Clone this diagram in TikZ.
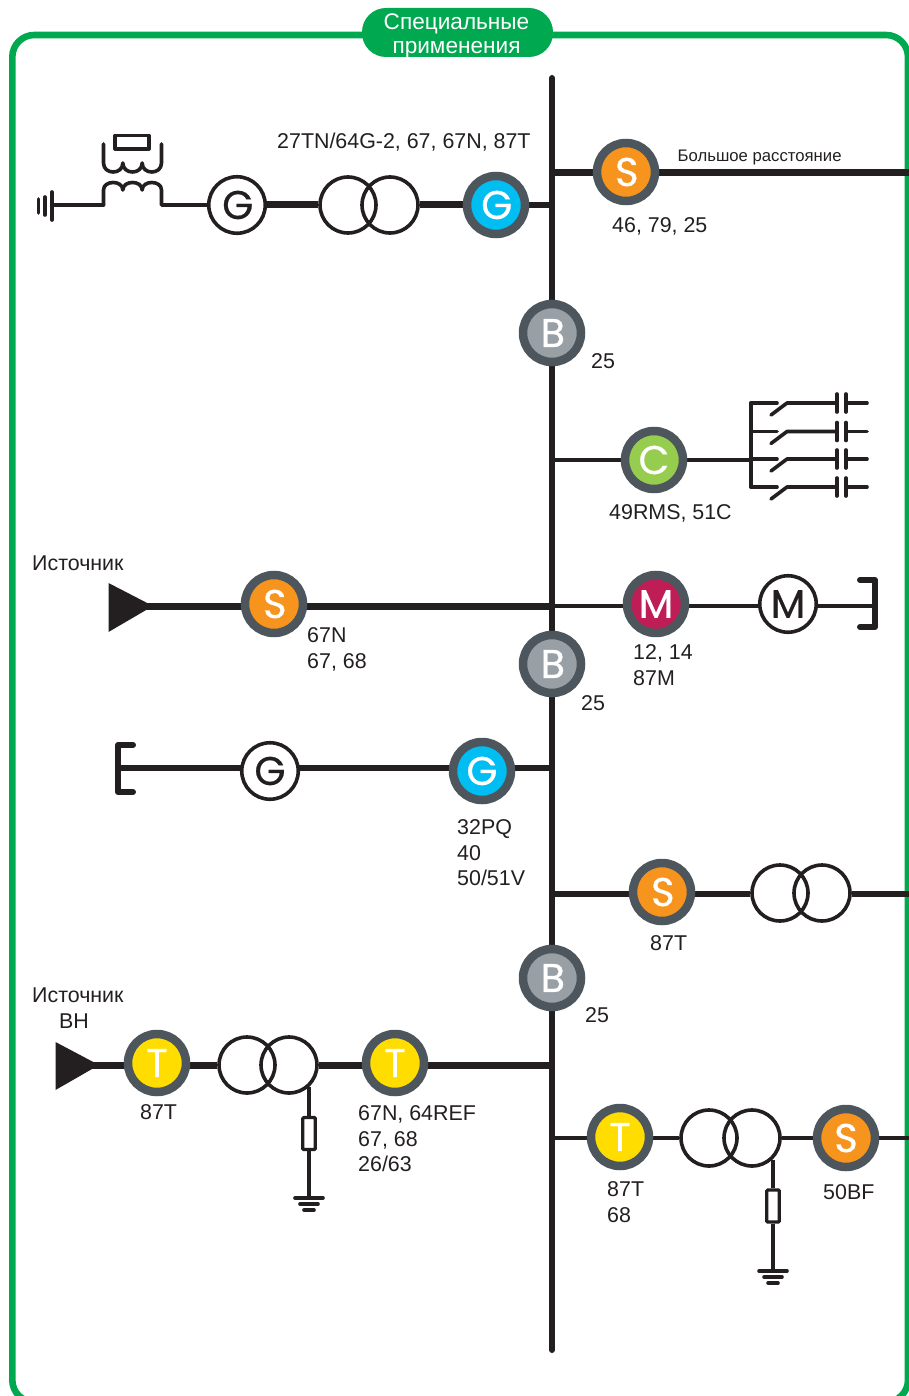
\documentclass[tikz,border=0pt]{standalone}
\usepackage{fontspec}
\setmainfont{Liberation Sans}
\newfontfamily\badgefont[FakeBold=0.6]{Poppins}
\usetikzlibrary{backgrounds,calc}
\definecolor{ink}{HTML}{231F20}
\definecolor{ringgray}{HTML}{4D565C}
\definecolor{frame}{HTML}{00A950}
\definecolor{orangeS}{HTML}{F7941D}
\definecolor{blueG}{HTML}{00BEF2}
\definecolor{yellowT}{HTML}{FFDD00}
\definecolor{limeC}{HTML}{97CD4E}
\definecolor{redM}{HTML}{BE1E55}
\definecolor{grayB}{HTML}{98A0A6}
\newcommand{\glyphat}[1]{\hspace{1.6pt}\raisebox{-1pt}{#1}}
\tikzset{
  x=1pt,y=-1pt,
  relay/.style={circle,draw=ringgray,line width=8.5pt,minimum size=58pt,inner sep=0pt,text=white,
    font=\badgefont\fontsize{40}{40}\selectfont},
  mach/.style={circle,draw=ink,fill=white,line width=3.6pt,minimum size=56.5pt,inner sep=0pt,text=ink,
    font=\badgefont\fontsize{40}{40}\selectfont},
  coilc/.style={circle,draw=ink,line width=3.6pt,minimum size=56pt,inner sep=0pt},
  resist/.style={rectangle,draw=ink,fill=white,line width=3.2pt,minimum width=12.5pt,minimum height=32pt,inner sep=0pt,rounded corners=1pt},
  thin wire/.style={draw=ink,line width=3.6pt,line cap=round,line join=round},
  mid wire/.style={draw=ink,line width=6pt},
  thick wire/.style={draw=ink,line width=7pt},
  bar/.style={draw=ink,line width=6pt,line cap=round,line join=round},
  lbl/.style={anchor=north west,inner sep=0pt,align=left,text=ink,font=\fontsize{21.4}{25.6}\selectfont},
  smalllbl/.style={anchor=north west,inner sep=0pt,text=ink,font=\fontsize{16.7}{18}\selectfont},
}
\begin{document}
\begin{tikzpicture}
\useasboundingbox (0,0) rectangle (909,1396);
\node[fill=frame,rounded corners=24pt,minimum width=191pt,minimum height=49pt,inner sep=0pt] (pill) at (457.5,32.5) {};
\node[text=white,inner sep=0pt,align=center,font=\fontsize{22.6}{24}\selectfont] (title) at (456.5,35.5) {Специальные\\применения};

% bus
\coordinate (busTop) at (552,78);
\coordinate (busBot) at (552,1350);

% relays and machines
\node[relay,fill=orangeS] (sTop) at (626,172) {\glyphat{S}};
\node[relay,fill=blueG] (gTop) at (496,205) {\glyphat{G}};
\node[mach] (genTop) at (237,205) {\glyphat{G}};
\node[coilc] (trTopA) at (348,205) {};
\node[coilc] (trTopB) at (390,205) {};
\node[relay,fill=grayB] (b1) at (552,333) {\glyphat{B}};
\node[relay,fill=limeC] (cap) at (654,460) {\raisebox{-1pt}{C}};
\node[relay,fill=orangeS] (sSrc) at (274,604) {\glyphat{S}};
\node[relay,fill=redM] (mRel) at (656,604) {\raisebox{-1pt}{M}};
\node[mach] (motor) at (788,604) {\raisebox{-1pt}{M}};
\node[relay,fill=grayB] (b2) at (552,664) {\glyphat{B}};
\node[relay,fill=blueG] (gMid) at (482,771) {\raisebox{-1pt}{G}};
\node[mach] (genMid) at (270,771) {\raisebox{-1pt}{G}};
\node[relay,fill=orangeS] (sMid) at (662,892) {\glyphat{S}};
\node[coilc] (trMidA) at (780,893) {};
\node[coilc] (trMidB) at (822,893) {};
\node[relay,fill=grayB] (b3) at (552,978) {\glyphat{B}};
\node[relay,fill=yellowT] (tLeft) at (157,1063) {\raisebox{-1pt}{T}};
\node[coilc] (trLowA) at (247,1065) {};
\node[coilc] (trLowB) at (289,1065) {};
\node[relay,fill=yellowT] (tRight) at (395,1063) {\raisebox{-1pt}{T}};
\node[relay,fill=yellowT] (tBot) at (620,1137) {\raisebox{-1pt}{T}};
\node[coilc] (trBotA) at (709,1138) {};
\node[coilc] (trBotB) at (752,1138) {};
\node[relay,fill=orangeS] (sBot) at (846,1138) {\raisebox{-1pt}{S}};
\node[resist] (r1) at (309,1133.5) {};
\node[resist] (r2) at (773,1206) {};
\coordinate (gnd1) at (309,1198);
\coordinate (gnd2) at (773,1271);

% free ends
\coordinate (eTop) at (909,172.5);
\coordinate (bTop) at (552,172.5);
\coordinate (bG) at (552,205);
\coordinate (bCap) at (552,460);
\coordinate (bank) at (751,460);
\coordinate (tipS) at (153,606);
\coordinate (bRow) at (552,606);
\coordinate (brM) at (875,606);
\coordinate (brG) at (118,768);
\coordinate (bMid) at (552,768);
\coordinate (bS) at (552,894);
\coordinate (eS) at (909,894);
\coordinate (tipT) at (99,1065);
\coordinate (bT) at (552,1065);
\coordinate (bBot) at (552,1138);
\coordinate (eBot) at (909,1138);
\coordinate (gCoilR) at (161.5,205);
\coordinate (gCoilL) at (103.5,205);
\coordinate (gEarth) at (52,205);

\begin{scope}[on background layer]
  \begin{scope}
    \clip (0,0) rectangle (909,1396);
    \draw[frame,line width=6.6pt,rounded corners=22pt] (12.3,35) rectangle (908,1402);
  \end{scope}
  % top right
  \draw[thick wire] (bTop) -- (bTop -| sTop);
  \draw[thick wire] (bTop -| sTop) -- (eTop);
  % top left
  \draw[mid wire] (gTop) -- (bG);
  \draw[thick wire] (trTopB) -- (gTop);
  \draw[thick wire] (genTop) -- (trTopA);
  \draw[thin wire,line cap=butt] (gCoilR) -- (genTop);
  \draw[thin wire] (gEarth) -- (gCoilL);
  % capacitor row
  \draw[thin wire,line cap=butt] (bCap) -- (cap);
  \draw[thin wire,line cap=butt] (cap) -- (bank);
  % source row
  \draw[thick wire,shorten <=-12pt] (tipS) -- (tipS -| sSrc);
  \draw[thick wire] (tipS -| sSrc) -- (bRow);
  \draw[thin wire,line cap=butt] (bRow) -- (bRow -| mRel);
  \draw[thin wire,line cap=butt] (bRow -| mRel) -- (bRow -| motor);
  \draw[thin wire,line cap=butt] (bRow -| motor) -- (brM);
  % mid G row
  \draw[mid wire] (brG) -- (brG -| genMid);
  \draw[mid wire] (brG -| genMid) -- (brG -| gMid);
  \draw[mid wire] (brG -| gMid) -- (bMid);
  % S row
  \draw[mid wire] (bS) -- (bS -| sMid);
  \draw[mid wire] (bS -| sMid) -- (trMidA.west |- bS);
  \draw[mid wire] (trMidB.east |- bS) -- (eS);
  % T row
  \draw[thick wire,shorten <=-12pt] (tipT) -- (tipT -| tLeft);
  \draw[thick wire] (tipT -| tLeft) -- (trLowA.west |- tipT);
  \draw[thick wire] (trLowB.east |- tipT) -- (tipT -| tRight);
  \draw[thick wire] (tipT -| tRight) -- (bT);
  % bottom row
  \draw[thin wire,line cap=butt] (bBot) -- (bBot -| tBot);
  \draw[thin wire,line cap=butt] (bBot -| tBot) -- (trBotA);
  \draw[thin wire,line cap=butt] (trBotB) -- (sBot);
  \draw[thin wire,line cap=butt] (sBot) -- (eBot);
  % bus
  \draw[bar] (busTop) -- (b1) -- (b2) -- (b3) -- (busBot);
\end{scope}

% resistor branches
\draw[thin wire,line width=3.2pt,line cap=butt] (r1.north |- trLowB.-47) -- (r1.north);
\draw[thin wire,line width=3.2pt,line cap=butt] (r1.south) -- (gnd1);
\draw[thin wire,line width=3.2pt,line cap=butt] (r2.north |- trBotB.-47) -- (r2.north);
\draw[thin wire,line width=3.2pt,line cap=butt] (r2.south) -- (gnd2);
\foreach \g in {gnd1,gnd2}{
  \draw[thin wire] ($(\g)+(-14,0)$) -- ($(\g)+(14,0)$);
  \draw[thin wire] ($(\g)+(-9,6)$) -- ($(\g)+(9,6)$);
  \draw[thin wire] ($(\g)+(-5,12)$) -- ($(\g)+(5,12)$);
}

% sources
\fill[ink] (tipS) -- (108.5,583) -- (108.5,632) -- cycle;
\fill[ink] (tipT) -- (55.5,1042) -- (55.5,1090) -- cycle;

% brackets
\draw[bar] (860,580) -- (875,580) -- (875,627) -- (860,627);
\draw[bar] (133,745) -- (118,745) -- (118,792) -- (133,792);

% capacitor bank
\draw[thin wire] (751,403) -- (751,487);
\foreach \yy in {403,431.5,459,487}{
  \draw[thin wire] (751,\yy) -- (777,\yy);
  \draw[thin wire] (771,\yy+12) -- (787,\yy) -- (837,\yy);
  \draw[thin wire] (837,\yy-9) -- (837,\yy+9);
  \draw[thin wire] (846,\yy-9) -- (846,\yy+9);
  \draw[thin wire] (846,\yy) -- (867,\yy);
}

% grounding transformer and earth
\draw[thin wire] (gCoilL) -- (103.5,190)
  .. controls +(0,-10) and +(0,-10) .. ++(19.33,0)
  .. controls +(0,-10) and +(0,-10) .. ++(19.33,0)
  .. controls +(0,-10) and +(0,-10) .. ++(19.33,0) -- (gCoilR);
\draw[thin wire] (103.5,144) -- (103.5,163)
  .. controls +(0,12) and +(0,12) .. ++(19.33,0)
  .. controls +(0,12) and +(0,12) .. ++(19.33,0)
  .. controls +(0,12) and +(0,12) .. ++(19.33,0) -- (161.5,144);
\draw[thin wire,line width=3.2pt] (115,135.5) rectangle (149,149);
\draw[thin wire] (52,192) -- (52,220);
\draw[thin wire] (45,197) -- (45,215);
\draw[thin wire] (38.5,199) -- (38.5,213);

% labels
\node[lbl] (l1) at (277,132.3) {27TN/64G-2, 67, 67N, 87T};
\node[smalllbl] (l2) at (677.5,150) {Большое расстояние};
\node[lbl] (l3) at (612,217.3) {46, 79, 25};
\node[lbl] (l4) at (591,353.3) {25};
\node[lbl] (l5) at (609,504.3) {49RMS, 51C};
\node[lbl] (l6) at (32,555.3) {Источник};
\node[lbl] (l7) at (307,627.3) {67N\\67, 68};
\node[lbl] (l8) at (633,644.3) {12, 14\\87M};
\node[lbl] (l9) at (581,695.3) {25};
\node[lbl] (l10) at (457,819.3) {32PQ\\40\\50/51V};
\node[lbl] (l11) at (650,935.3) {87T};
\node[lbl] (l12) at (32,987.3) {Источник};
\node[lbl] (l13) at (59,1013.3) {ВН};
\node[lbl] (l14) at (585,1007.3) {25};
\node[lbl] (l15) at (140,1104.3) {87T};
\node[lbl] (l16) at (358,1105.3) {67N, 64REF\\67, 68\\26/63};
\node[lbl] (l17) at (607,1181.3) {87T\\68};
\node[lbl] (l18) at (823,1184.3) {50BF};
\end{tikzpicture}
\end{document}
